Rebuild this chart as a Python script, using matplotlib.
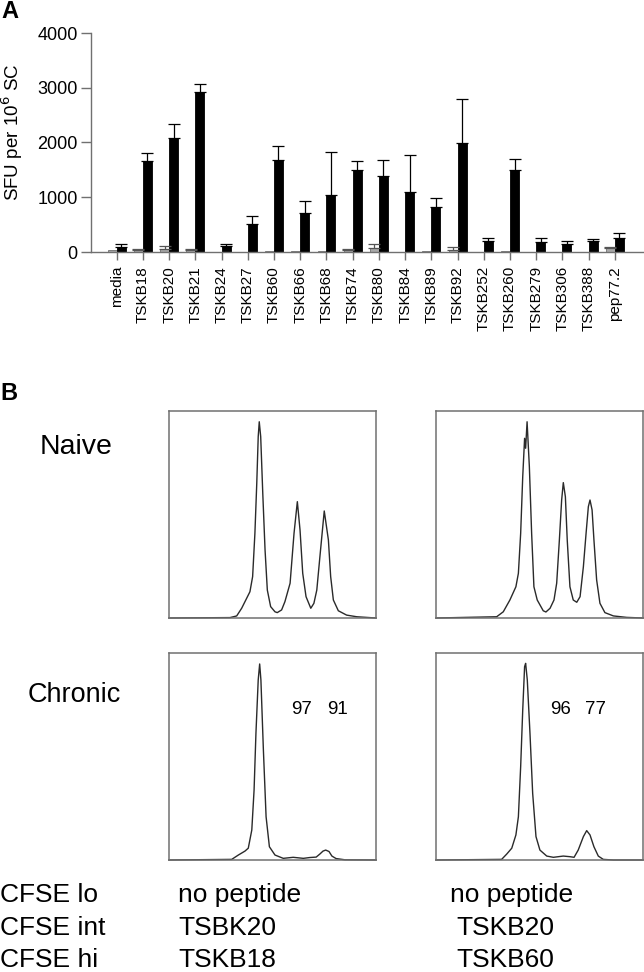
import numpy as np
import matplotlib
matplotlib.use("Agg")
import matplotlib.pyplot as plt

plt.rcParams['font.family'] = ['Liberation Sans', 'DejaVu Sans']

# ---------------- Panel A data ----------------
categories = ["media", "TSKB18", "TSKB20", "TSKB21", "TSKB24", "TSKB27", "TSKB60",
              "TSKB66", "TSKB68", "TSKB74", "TSKB80", "TSKB84", "TSKB89", "TSKB92",
              "TSKB252", "TSKB260", "TSKB279", "TSKB306", "TSKB388", "pep77.2"]
gray_vals = [30, 30, 55, 35, 0, 0, 15, 25, 12, 30, 75, 0, 10, 40, 0, 22, 0, 8, 0, 73]
gray_err = [0, 20, 60, 20, 0, 0, 0, 0, 0, 32, 62, 0, 0, 45, 0, 0, 0, 0, 0, 17]
black_vals = [100, 1668, 2088, 2917, 115, 508, 1680, 718, 1041, 1503, 1388, 1096,
              816, 1997, 203, 1492, 180, 152, 204, 253]
black_err = [40, 135, 256, 146, 25, 155, 256, 208, 791, 165, 286, 670, 176, 792,
             53, 213, 70, 50, 34, 88]
y_ticks = [0, 1000, 2000, 3000, 4000]

# ---------------- Panel B data (histograms, x in channel 0-1000, y in % of max) ----------------
naive_lo_x = [0, 295, 327, 351, 375, 391, 404, 415, 424, 431, 436, 443, 453, 464, 475, 491,
              512, 523, 544, 560, 585, 604, 620, 633, 646, 662, 685, 700, 714, 729, 750,
              770, 781, 794, 818, 858, 907, 1000]
naive_lo_y = [0, 0.2, 1.0, 4.7, 9.5, 12.7, 20.0, 40.9, 65.1, 87.6, 94.8, 87.6, 60.2, 32.9,
              13.5, 5.5, 3.0, 2.6, 3.9, 7.9, 16.8, 40.9, 56.2, 42.5, 21.6, 10.3, 4.7, 7.1,
              13.5, 29.6, 51.7, 37.7, 20.0, 8.7, 3.5, 1.4, 0.6, 0]
naive_hi_x = [0, 293, 325, 357, 386, 398, 409, 419, 428, 433, 440, 451, 462, 473, 489, 518,
              531, 551, 570, 583, 596, 607, 615, 625, 634, 647, 663, 680, 696, 712, 725,
              736, 744, 754, 763, 776, 792, 816, 857, 921, 1000]
naive_hi_y = [0, 0.6, 3.0, 8.7, 15.1, 21.6, 40.9, 68.3, 86.8, 82.0, 94.8, 73.1, 40.9, 15.1,
              8.7, 3.5, 2.9, 4.7, 8.7, 16.8, 37.7, 57.0, 65.4, 58.6, 37.7, 15.1, 8.7, 7.6,
              10.3, 24.8, 40.9, 53.8, 57.0, 52.2, 37.7, 18.4, 7.1, 2.6, 1.0, 0.3, 0]
chronic_lo_x = [0, 303, 335, 367, 383, 400, 411, 420, 431, 438, 444, 456, 469, 485, 512,
                552, 600, 649, 681, 711, 729, 744, 757, 773, 787, 807, 850, 1000]
chronic_lo_y = [0, 0.3, 2.4, 4.3, 5.7, 14.5, 33.8, 61.2, 87.0, 94.7, 87.0, 53.1, 20.9, 6.4,
                2.4, 0.8, 1.3, 0.8, 1.2, 1.4, 2.9, 4.3, 4.8, 4.1, 1.9, 0.7, 0.1, 0]
chronic_hi_x = [0, 317, 342, 366, 386, 398, 409, 419, 428, 433, 441, 454, 467, 483, 502,
                535, 567, 615, 647, 667, 687, 712, 728, 744, 763, 784, 808, 857, 1000]
chronic_hi_y = [0, 0.3, 2.9, 5.7, 12.1, 20.9, 45.1, 72.5, 93.4, 95.0, 87.0, 61.2, 32.2,
                11.3, 4.8, 1.9, 1.3, 1.9, 1.6, 1.3, 4.8, 11.3, 14.2, 12.1, 6.4, 1.9, 0.3, 0, 0]
row_labels = ["Naive", "Chronic"]
chronic_pcts = [["97", "91"], ["96", "77"]]
legend_left = ["CFSE lo", "CFSE int", "CFSE hi"]
legend_mid = ["no peptide", "TSBK20", "TSKB18"]
legend_right = ["no peptide", "TSKB20", "TSKB60"]

W, H = 644, 972
fig = plt.figure(figsize=(W / 100, H / 100), dpi=100)


def fx(px):
    return px / W


def fy(py):
    return 1 - py / H


# ---------------- Panel A ----------------
ax = fig.add_axes([fx(91), fy(252), (643 - 91) / W, (252 - 33) / H])
x = np.arange(len(categories))
bw = 0.34
ax.bar(x - bw / 2, gray_vals, width=bw, color="#a8a8a8", edgecolor="#707070", linewidth=0.6, zorder=2)
ax.bar(x + bw / 2, black_vals, width=bw, color="black", edgecolor="black", linewidth=0.6, zorder=2)
gi = [i for i in range(len(x)) if gray_err[i] > 0]
ax.errorbar(x[gi] - bw / 2, np.array(gray_vals)[gi], yerr=[np.zeros(len(gi)), np.array(gray_err)[gi]],
            fmt="none", ecolor="#555555", elinewidth=0.9, capsize=4.3, capthick=0.9, zorder=3)
ax.errorbar(x + bw / 2, black_vals, yerr=[np.zeros(len(x)), black_err],
            fmt="none", ecolor="black", elinewidth=0.9, capsize=4.3, capthick=0.9, zorder=3)
ax.set_xlim(-0.98, 20.07)
ax.set_ylim(0, 4000)
ax.set_yticks(y_ticks)
ax.set_yticklabels([str(v) for v in y_ticks], fontsize=13)
ax.set_xticks(x)
ax.set_xticklabels(categories, rotation=90, fontsize=11)
for s in ["top", "right"]:
    ax.spines[s].set_visible(False)
for s in ["left", "bottom"]:
    ax.spines[s].set_color("#707070")
    ax.spines[s].set_linewidth(1.0)
ax.tick_params(axis="y", length=7.5, width=1.0, color="#707070", pad=2)
ax.tick_params(axis="x", length=6, width=1.0, color="#707070", pad=4)
ax.patch.set_visible(False)

fig.text(fx(12), fy(132), "SFU per 10$^6$ SC", rotation=90, ha="center", va="center", fontsize=13.5)
fig.text(fx(1), fy(11.5), "A", fontsize=17, fontweight="bold", ha="left", va="center")
fig.text(fx(0), fy(393), "B", fontsize=17, fontweight="bold", ha="left", va="center")

# ---------------- Panel B ----------------
boxes = [
    (169, 618, naive_lo_x, naive_lo_y),
    (436, 618, naive_hi_x, naive_hi_y),
    (169, 860, chronic_lo_x, chronic_lo_y),
    (436, 860, chronic_hi_x, chronic_hi_y),
]
for left, bottom, hx, hy in boxes:
    hax = fig.add_axes([fx(left), fy(bottom), 207 / W, 207 / H])
    hax.plot(hx, hy, color="#2a2a2a", linewidth=1.0, clip_on=False)
    hax.set_xlim(0, 1000)
    hax.set_ylim(0, 100)
    hax.set_xticks([])
    hax.set_yticks([])
    for s in hax.spines.values():
        s.set_color("#707070")
        s.set_linewidth(1.1)

fig.text(fx(40), fy(447), row_labels[0], fontsize=20.5, ha="left", va="center")
fig.text(fx(28), fy(695), row_labels[1], fontsize=19.5, ha="left", va="center")

pct_x = [[301.5, 337], [560.5, 596]]
for col in range(2):
    for k in range(2):
        fig.text(fx(pct_x[col][k]), fy(710), chronic_pcts[col][k], fontsize=13.5,
                 ha="center", va="center")

row_y = [895, 928, 960]
for r in range(3):
    fig.text(fx(0), fy(row_y[r]), legend_left[r], fontsize=19, ha="left", va="center")
    fig.text(fx(178), fy(row_y[r]), legend_mid[r], fontsize=19, ha="left", va="center")
    fig.text(fx(450 if r == 0 else 456), fy(row_y[r]), legend_right[r], fontsize=19,
             ha="left", va="center")

fig.savefig("out.png", dpi=100)
